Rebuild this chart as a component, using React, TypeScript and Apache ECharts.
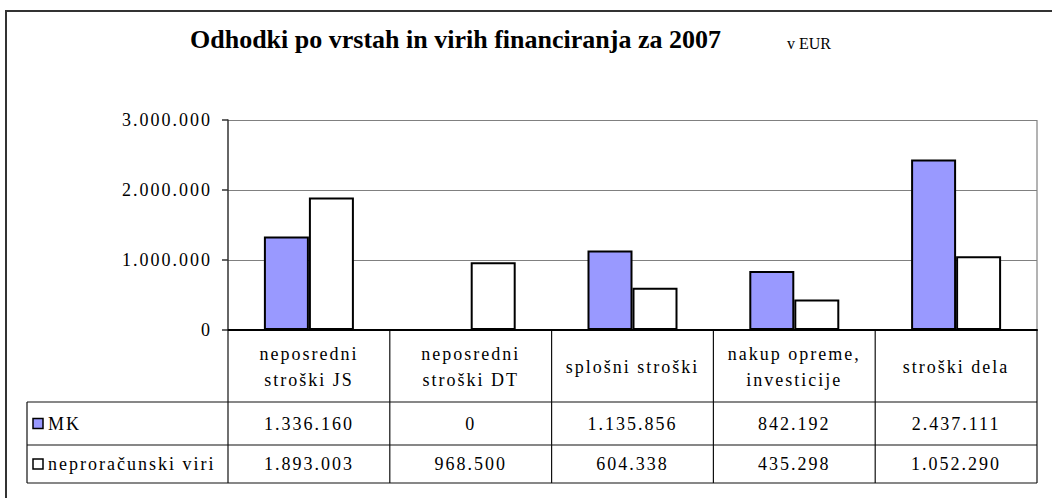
import React, { useEffect, useRef } from "react";
import * as echarts from "echarts";

const titleText = "Odhodki po vrstah in virih financiranja za 2007";
const unitText = "v EUR";
const categories = [
  "neposredni\nstroški JS",
  "neposredni\nstroški DT",
  "splošni stroški",
  "nakup opreme,\ninvesticije",
  "stroški dela",
];
const seriesNames = ["MK", "neproračunski viri"];
const mkValues = [1336160, 0, 1135856, 842192, 2437111];
const neproValues = [1893003, 968500, 604338, 435298, 1052290];
const yMin = 0;
const yMax = 3000000;
const yStep = 1000000;

const seriesColors = ["#9999FF", "#FFFFFF"];
const FONT = "Liberation Serif";

const fmt = (n: number) => String(n).replace(/\B(?=(\d{3})+(?!\d))/g, ".");

export default function App() {
  const ref = useRef<HTMLDivElement>(null);
  useEffect(() => {
    const el = ref.current;
    if (!el) return;
    const chart = echarts.init(el, null, { renderer: "svg" });
    const seriesData = [mkValues, neproValues];
    chart.setOption({
      animation: false,
      backgroundColor: "#ffffff",
      title: [
        {
          text: titleText,
          left: 185,
          top: 21,
          textStyle: { fontFamily: FONT, fontWeight: "bold", fontSize: 26, color: "#000" },
        },
        {
          text: unitText,
          left: 782,
          top: 30,
          textStyle: { fontFamily: FONT, fontWeight: "normal", fontSize: 16, color: "#000" },
        },
      ],
      grid: { left: 228, right: 15, top: 120, bottom: 168, containLabel: false },
      xAxis: {
        type: "category",
        data: categories,
        axisLine: { show: true, lineStyle: { color: "#000", width: 2 } },
        axisTick: { show: false },
        axisLabel: {
          interval: 0,
          margin: 37,
          verticalAlign: "middle",
          fontFamily: FONT,
          fontSize: 18,
          lineHeight: 26,
          color: "#000",
        },
      },
      yAxis: {
        type: "value",
        min: yMin,
        max: yMax,
        interval: yStep,
        axisLine: { show: true, lineStyle: { color: "#333", width: 1.5 } },
        axisTick: { show: true, length: 6, inside: false, lineStyle: { color: "#333", width: 1.5 } },
        axisLabel: { margin: 16, fontFamily: FONT, fontSize: 18, color: "#000", formatter: (v: number) => fmt(v) },
        splitLine: { show: true, lineStyle: { color: "#808080", width: 1 } },
      },
      series: seriesNames.map((name, i) => ({
        name,
        type: "bar",
        data: seriesData[i],
        barWidth: 45,
        barGap: "0%",
        itemStyle: { color: seriesColors[i], borderColor: "#000", borderWidth: 2 },
      })),
    });

    const centers = categories.map((_, i) => (chart.convertToPixel({ gridIndex: 0 }, [i, 0]) as number[])[0]);
    const yZero = (chart.convertToPixel({ gridIndex: 0 }, [0, yMin]) as number[])[1];
    const yTop = (chart.convertToPixel({ gridIndex: 0 }, [0, yMax]) as number[])[1];
    const step = centers[1] - centers[0];
    const bounds = [centers[0] - step / 2, ...centers.map((c) => c + step / 2)];
    const right = bounds[bounds.length - 1];
    const tableLeft = 27;
    const headerBottom = yZero + 72;
    const rowH = [43, 38];
    const rowTops = [headerBottom, headerBottom + rowH[0]];
    const tableBottom = headerBottom + rowH[0] + rowH[1];
    const lineStyle = { stroke: "#111", lineWidth: 1.2 };
    const elements: any[] = [];
    const hline = (x1: number, x2: number, y: number) =>
      elements.push({ type: "line", silent: true, shape: { x1, y1: y, x2, y2: y }, style: lineStyle });
    const vline = (x: number, y1: number, y2: number) =>
      elements.push({ type: "line", silent: true, shape: { x1: x, y1, x2: x, y2 }, style: lineStyle });

    elements.push({
      type: "rect",
      silent: true,
      shape: { x: 6, y: 11, width: 1100, height: 540 },
      style: { fill: "none", stroke: "#333", lineWidth: 2 },
    });
    elements.push({
      type: "line",
      silent: true,
      shape: { x1: right, y1: yTop, x2: right, y2: yZero },
      style: { stroke: "#808080", lineWidth: 1.2 },
    });

    hline(tableLeft, right, rowTops[0]);
    hline(tableLeft, right, rowTops[1]);
    hline(tableLeft, right, tableBottom);
    vline(tableLeft, rowTops[0], tableBottom);
    bounds.forEach((b) => vline(b, yZero, tableBottom));

    seriesNames.forEach((name, r) => {
      const cy = rowTops[r] + rowH[r] / 2;
      elements.push({
        type: "rect",
        silent: true,
        shape: { x: 33, y: cy - 5, width: 10, height: 10 },
        style: { fill: seriesColors[r], stroke: "#000", lineWidth: 1.5 },
      });
      elements.push({
        type: "text",
        silent: true,
        x: 48,
        y: cy,
        style: { text: name, fontFamily: FONT, fontSize: 18, fill: "#000", align: "left", verticalAlign: "middle" },
      });
      seriesData[r].forEach((v, i) => {
        elements.push({
          type: "text",
          silent: true,
          x: centers[i],
          y: cy,
          style: { text: fmt(v), fontFamily: FONT, fontSize: 18, fill: "#000", align: "center", verticalAlign: "middle" },
        });
      });
    });

    chart.setOption({ graphic: { elements } });
    return () => chart.dispose();
  }, []);

  return (
    <div style={{ position: "fixed", left: 0, top: 0, width: 1052, height: 498, background: "#fff" }}>
      <style>{`#chartbox svg text[style*="18px"] { letter-spacing: 2px; }`}</style>
      <div id="chartbox" ref={ref} style={{ width: 1052, height: 498 }} />
    </div>
  );
}
